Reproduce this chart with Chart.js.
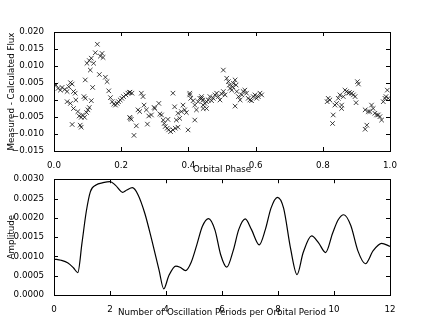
<!DOCTYPE html>
<html>
<head>
<meta charset="utf-8">
<script src="https://cdn.jsdelivr.net/npm/chart.js@4"></script>
<style>
body { margin: 0; background: #fff; }
#wrap { position: relative; width: 433px; height: 327px; }
canvas { position: absolute; left: 0; }
</style>
</head>
<body>
<div id="wrap">
<canvas id="residuals" width="433" height="178" style="top:0"></canvas>
<canvas id="spectrum" width="433" height="155" style="top:172px"></canvas>
</div>
<script>
// top panel: residuals vs orbital phase
var phase = [
  0.006, 0.012, 0.019, 0.024, 0.032, 0.039, 0.044, 0.049, 0.054, 0.058, 0.063, 0.039, 0.049, 0.058, 0.065,
  0.071, 0.075, 0.081, 0.085, 0.091, 0.097, 0.101, 0.105, 0.093, 0.089, 0.054, 0.081, 0.078, 0.111, 0.093,
  0.098, 0.105, 0.111, 0.118, 0.123, 0.129, 0.138, 0.143, 0.146, 0.108, 0.115, 0.135, 0.153, 0.158, 0.163,
  0.168, 0.173, 0.178, 0.183, 0.188, 0.192, 0.197, 0.202, 0.207, 0.214, 0.220, 0.226, 0.227,
  0.225, 0.232, 0.260, 0.265, 0.268, 0.250, 0.255, 0.275, 0.282, 0.290, 0.278, 0.245, 0.238, 0.225, 0.230,
  0.300, 0.298, 0.312, 0.315, 0.320, 0.325, 0.328, 0.331, 0.337, 0.341, 0.347, 0.354, 0.361, 0.369, 0.339,
  0.354, 0.359, 0.364, 0.369, 0.374, 0.379, 0.384, 0.389, 0.394, 0.399, 0.404, 0.407, 0.414, 0.419, 0.424,
  0.429, 0.434, 0.439, 0.443, 0.419, 0.404,
  0.439, 0.444, 0.449, 0.454, 0.459, 0.464, 0.469, 0.474, 0.479, 0.484, 0.489, 0.494, 0.499, 0.504, 0.509,
  0.504, 0.514, 0.519, 0.522, 0.524, 0.529, 0.532, 0.534, 0.539, 0.542, 0.544, 0.549, 0.554, 0.559, 0.563,
  0.568, 0.573, 0.578, 0.583, 0.588, 0.593, 0.598, 0.603, 0.608, 0.613, 0.618, 0.539, 0.454, 0.444,
  0.813, 0.816, 0.821, 0.831, 0.829, 0.836, 0.841, 0.846, 0.851, 0.856, 0.856, 0.861, 0.866, 0.871, 0.876,
  0.879, 0.886, 0.891, 0.896, 0.899, 0.903, 0.906, 0.926, 0.935, 0.940, 0.945, 0.950, 0.955, 0.960, 0.965,
  0.970, 0.975, 0.931, 0.926, 0.980, 0.985, 0.988, 0.992, 0.995
];
var residual = [
  0.0044, 0.0034, 0.0029, 0.0037, 0.0031, 0.0025, 0.0039, 0.0051, 0.0047, 0.0025, 0.0020, -0.0005, -0.0010, -0.0025, 0.0000,
  -0.0034, -0.0047, -0.0051, -0.0044, -0.0051, -0.0037, -0.0029, -0.0022, 0.0005, 0.0010, -0.0072, -0.0080, -0.0074, -0.0002, 0.0059,
  0.0108, 0.0116, 0.0123, 0.0108, 0.0139, 0.0164, 0.0129, 0.0137, 0.0125, 0.0088, 0.0037, 0.0075, 0.0067, 0.0054, 0.0027,
  0.0007, -0.0005, -0.0012, -0.0015, -0.0010, -0.0005, 0.0000, 0.0005, 0.0010, 0.0015, 0.0020, 0.0023, -0.0054,
  0.0022, 0.0020, 0.0020, 0.0010, -0.0015, -0.0029, -0.0034, -0.0029, -0.0047, -0.0044, -0.0071, -0.0076, -0.0104, -0.0051, -0.0057,
  -0.0025, -0.0022, -0.0010, -0.0041, -0.0044, -0.0059, -0.0069, -0.0078, -0.0083, -0.0088, -0.0093, -0.0088, -0.0083, -0.0080, -0.0057,
  0.0020, -0.0020, -0.0059, -0.0039, -0.0054, -0.0034, -0.0015, -0.0029, -0.0037, -0.0088, 0.0020, 0.0005, -0.0002, -0.0015, -0.0029,
  -0.0005, 0.0005, 0.0010, 0.0000, -0.0059, 0.0015,
  0.0005, -0.0015, -0.0010, -0.0005, 0.0000, 0.0010, -0.0002, 0.0005, 0.0015, 0.0020, 0.0010, 0.0000, 0.0018, 0.0025, 0.0015,
  0.0088, 0.0064, 0.0054, 0.0044, 0.0034, 0.0029, 0.0039, 0.0049, 0.0059, 0.0044, 0.0025, 0.0010, 0.0000, 0.0015, 0.0025,
  0.0029, 0.0020, 0.0005, 0.0000, -0.0002, 0.0010, 0.0015, 0.0005, 0.0010, 0.0020, 0.0015, -0.0018, -0.0025, -0.0025,
  -0.0005, 0.0005, 0.0000, -0.0044, -0.0069, -0.0015, -0.0010, 0.0005, 0.0015, -0.0015, -0.0025, 0.0010, 0.0029, 0.0025, 0.0020,
  0.0022, 0.0020, 0.0015, 0.0010, -0.0008, 0.0054, 0.0047, -0.0029, -0.0034, -0.0034, -0.0015, -0.0025, -0.0039, -0.0044, -0.0044,
  -0.0049, -0.0059, -0.0074, -0.0086, -0.0005, 0.0005, 0.0010, 0.0029, 0.0005
];

// bottom panel: amplitude spectrum
var periods = [
  0.0, 0.25, 0.5, 0.7, 0.85, 1.0, 1.15, 1.3, 1.5, 1.75, 2.0, 2.2, 2.45, 2.6, 2.8, 3.0, 3.25, 3.5, 3.75, 3.92,
  4.1, 4.35, 4.5, 4.7, 4.9, 5.1, 5.3, 5.52, 5.75, 5.95, 6.17, 6.4, 6.6, 6.83, 7.05, 7.33, 7.55, 7.75, 7.98,
  8.2, 8.45, 8.68, 8.9, 9.2, 9.45, 9.7, 9.95, 10.15, 10.35, 10.6, 10.85, 11.12, 11.4, 11.7, 12.0
];
var amplitude = [
  0.00093, 0.00090, 0.00083, 0.00070, 0.00058, 0.00135, 0.00215, 0.00268, 0.00285, 0.00291, 0.00294, 0.00284,
  0.00266, 0.00272, 0.00278, 0.00260, 0.00210, 0.00140, 0.00065, 0.00016, 0.00050, 0.00075, 0.00072, 0.00063,
  0.00085, 0.00130, 0.00178, 0.00198, 0.00168, 0.00105, 0.00072, 0.00115, 0.00170, 0.00197, 0.00170, 0.00130,
  0.00170, 0.00225, 0.00253, 0.00225, 0.00120, 0.00053, 0.00110, 0.00153, 0.00135, 0.00110, 0.00160, 0.00195,
  0.00208, 0.00180, 0.00115, 0.00081, 0.00115, 0.00134, 0.00126
];

var FONT = { family: 'DejaVu Sans', size: 8.7 };
Chart.defaults.color = '#000';
Chart.defaults.animation = false;

function minus(s) { return s.replace('-', '\u2212'); }

// box with inward tick marks, matplotlib style
var frame = {
  id: 'frame',
  afterDraw: function (chart) {
    var ctx = chart.ctx, a = chart.chartArea, sx = chart.scales.x, sy = chart.scales.y;
    ctx.save();
    ctx.strokeStyle = '#000';
    ctx.lineWidth = 1;
    ctx.strokeRect(Math.round(a.left) + 0.5, Math.round(a.top) + 0.5,
                   Math.round(a.right - a.left), Math.round(a.bottom - a.top));
    ctx.beginPath();
    sx.ticks.forEach(function (t, i) {
      var x = Math.round(sx.getPixelForTick(i)) + 0.5;
      ctx.moveTo(x, a.bottom); ctx.lineTo(x, a.bottom - 4);
      ctx.moveTo(x, a.top); ctx.lineTo(x, a.top + 4);
    });
    sy.ticks.forEach(function (t, i) {
      var y = Math.round(sy.getPixelForTick(i)) + 0.5;
      ctx.moveTo(a.left, y); ctx.lineTo(a.left + 4, y);
      ctx.moveTo(a.right, y); ctx.lineTo(a.right - 4, y);
    });
    ctx.stroke();
    ctx.restore();
  }
};

function axes(xmin, xmax, xstep, xfmt, xtitle, xh, xpad, ymin, ymax, ystep, yfmt, ytitle) {
  return {
    x: {
      type: 'linear', min: xmin, max: xmax,
      grid: { display: false }, border: { display: false },
      ticks: { stepSize: xstep, font: FONT, padding: 2, maxRotation: 0, autoSkip: false,
               callback: function (v) { return minus(v.toFixed(xfmt)); } },
      title: { display: true, text: xtitle, font: FONT, padding: { top: 0, bottom: xpad } },
      afterFit: function (s) { s.height = xh; }
    },
    y: {
      type: 'linear', min: ymin, max: ymax,
      grid: { display: false }, border: { display: false },
      ticks: { stepSize: ystep, font: FONT, padding: 2, autoSkip: false,
               callback: function (v) { return minus(v.toFixed(yfmt)); } },
      title: { display: true, text: ytitle, font: FONT, padding: { top: 7, bottom: 0 } },
      afterFit: function (s) { s.width = 54; }
    }
  };
}

new Chart(document.getElementById('residuals'), {
  type: 'scatter',
  data: {
    datasets: [{
      data: phase.map(function (p, i) { return { x: p, y: residual[i] }; }),
      pointStyle: 'crossRot', pointRadius: 3.2, borderColor: '#111', borderWidth: 0.8,
      backgroundColor: '#111'
    }]
  },
  options: {
    responsive: false,
    layout: { padding: { top: 32, right: 43, left: 0, bottom: 0 } },
    plugins: { legend: { display: false }, tooltip: { enabled: false } },
    scales: axes(0, 1, 0.2, 1, 'Orbital Phase', 27, 3, -0.015, 0.02, 0.005, 3, 'Measured - Calculated Flux')
  },
  plugins: [frame]
});

new Chart(document.getElementById('spectrum'), {
  type: 'line',
  data: {
    datasets: [{
      data: periods.map(function (p, i) { return { x: p, y: amplitude[i] }; }),
      borderColor: '#000', borderWidth: 1.2, pointRadius: 0,
      cubicInterpolationMode: 'monotone', fill: false
    }]
  },
  options: {
    responsive: false,
    layout: { padding: { top: 3, right: 43, left: 0, bottom: 0 } },
    plugins: { legend: { display: false }, tooltip: { enabled: false } },
    scales: axes(0, 12, 2, 0, 'Number of Oscillation Periods per Orbital Period', 32, 9.5, 0, 0.003, 0.0005, 4, 'Amplitude')
  },
  plugins: [frame]
});
</script>
</body>
</html>
